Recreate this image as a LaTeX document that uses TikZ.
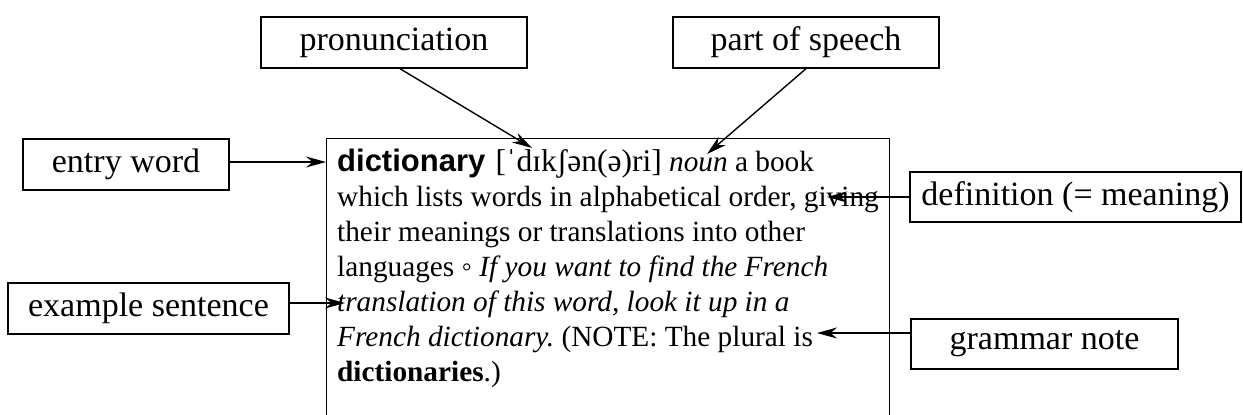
\documentclass[tikz,border=0pt]{standalone}
\usepackage{fontspec}
\setmainfont{Liberation Serif}
\newfontfamily\hwfont{Liberation Sans}
\usetikzlibrary{arrows.meta}
\frenchspacing
\tikzset{
  label box/.style={draw, line width=1.4pt, inner sep=0pt, font=\fontsize{34}{40}\selectfont},
  arr/.style={line width=1.4pt, -{Stealth[length=20pt,width=11pt]}},
  entryline/.style={anchor=base west, inner sep=0pt, font=\fontsize{29.3}{35}\selectfont}
}
\begin{document}
\begin{tikzpicture}[x=1pt,y=-1pt]
\clip (0,0) rectangle (1243,415);
\fill[white] (0,0) rectangle (1243,415);
% main entry box (open at the bottom edge of the picture)
\node[draw, line width=1.2pt, anchor=north west, inner sep=0pt, minimum width=563pt, minimum height=330pt] (mainbox) at (326,137.5) {};
% entry text
\node[entryline] (l1) at (337,171) {{\hwfont\bfseries\fontsize{31}{35}\selectfont dictionary}\hspace{3pt} {\fontsize{31.5}{35}\selectfont [ˈdɪkʃən(ə)ri]} \textit{noun} a book};
\node[entryline] (l2) at (337,206.1) {which lists words in alphabetical order, giving};
\node[entryline] (l3) at (337,241.2) {their meanings or translations into other};
\node[entryline] (l4) at (337,276.3) {languages ◦ \textit{If you want to find the French}};
\node[entryline] (l5) at (337,311.4) {\textit{translation of this word, look it up in a}};
\node[entryline] (l6) at (337,346.5) {\textit{French dictionary.} (NOTE: The plural is};
\node[entryline] (l7) at (337,381.6) {\textbf{dictionaries}.)};
% label boxes
\node[label box, minimum width=266pt, minimum height=51pt] (pron) at (394,42.5) {pronunciation};
\node[label box, minimum width=266pt, minimum height=51pt] (pos) at (806,42.5) {part of speech};
\node[label box, minimum width=206pt, minimum height=51pt] (entry) at (126,164.5) {entry word};
\node[label box, minimum width=281pt, minimum height=51pt] (example) at (148.5,308.5) {example sentence};
\node[label box, minimum width=331pt, minimum height=50pt] (def) at (1075.5,197) {definition (= meaning)};
\node[label box, minimum width=267pt, minimum height=50pt] (gram) at (1044.5,344) {grammar note};
% arrow targets
\coordinate (pronTip) at (532,148);
\coordinate (nounTip) at (707,154);
\coordinate (defTip) at (827,197);
\coordinate (gramTip) at (817,333);
\coordinate (exTip) at (345,303);
% connectors
\draw[arr] ([xshift=6pt]pron.south) -- (pronTip);
\draw[arr] (pos.south) -- (nounTip);
\draw[arr] ([yshift=2.5pt]entry.east) -- ([yshift=2.5pt]entry.east -| mainbox.west);
\draw[arr] (example.east |- exTip) -- (exTip);
\draw[arr] (def.west) -- (defTip);
\draw[arr] (gram.west |- gramTip) -- (gramTip);
\end{tikzpicture}
\end{document}
